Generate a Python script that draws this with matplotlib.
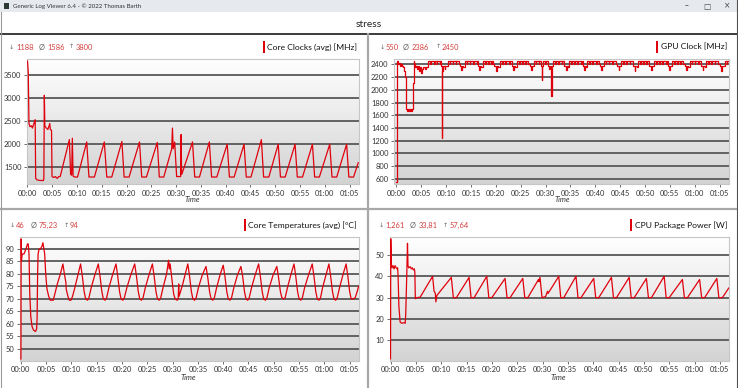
import numpy as np
import matplotlib.pyplot as plt
from matplotlib.patches import Rectangle
from matplotlib.lines import Line2D
from matplotlib.colors import LinearSegmentedColormap

plt.rcParams['font.family'] = ['Lato', 'DejaVu Sans']

# ---- data (time in minutes) ----
cpu_t = [0.0, 0.15, 0.3, 0.5, 0.8, 1.0, 1.2, 1.45, 1.55, 1.65, 1.9, 2.5, 3.2, 3.3, 3.4, 3.5,
         3.8, 4.1, 4.3, 4.5, 4.6, 4.85, 4.95, 5.3, 5.6, 6.0, 6.3, 6.6, 8.45, 8.7, 8.9, 9.05,
         9.2, 9.5, 10.1, 11.95, 12.4, 13.5, 15.5, 16.0, 17.0, 19.05, 19.5, 20.5, 22.6, 23.05,
         24.0, 26.2, 26.6, 27.5, 29.1, 29.25, 29.4, 29.7, 30.1, 30.9, 31.0, 31.1, 31.3, 33.3,
         33.75, 34.7, 36.7, 37.15, 38.2, 40.3, 40.75, 41.7, 43.7, 44.15, 45.1, 47.2, 47.65,
         48.7, 50.6, 51.05, 52.0, 54.0, 54.45, 55.5, 57.5, 57.95, 58.9, 61.0, 61.45, 62.4,
         64.4, 64.85, 65.8, 66.75]
cpu_mhz = [3800, 3580, 2450, 2380, 2400, 2350, 2420, 2500, 2530, 1260, 1230, 1215, 1215, 1250,
           3060, 2400, 2350, 2320, 2380, 2450, 2320, 2300, 1300, 1280, 1300, 1260, 1300, 1300,
           2100, 1350, 1330, 2130, 1310, 1290, 1290, 2050, 1290, 1290, 2050, 1290, 1290, 2060,
           1290, 1290, 2050, 1290, 1290, 2040, 1290, 1290, 1900, 2350, 1900, 2050, 1300, 1300,
           2210, 1350, 1400, 2050, 1290, 1290, 2050, 1290, 1290, 2000, 1290, 1290, 2000, 1290,
           1290, 2100, 1290, 1290, 2000, 1290, 1290, 2000, 1290, 1290, 2000, 1290, 1290, 2000,
           1290, 1290, 2000, 1290, 1290, 1600]

gpu_t = [0.0, 0.05, 0.1, 0.3, 0.5, 0.7, 0.9, 1.1, 1.3, 1.5, 1.7, 1.85, 2.0, 2.15, 2.4, 2.6,
         2.8, 3.0, 3.2, 3.35, 3.45, 3.6, 3.8, 4.0, 4.2, 4.4, 4.6, 4.8, 5.0, 5.15, 5.4, 5.7,
         5.9, 6.1,
         6.4, 6.8, 6.95, 7.5, 7.65, 8.1, 8.25, 8.7, 8.85, 9.0, 9.15, 9.25, 9.4, 9.7, 9.85,
         10.3, 10.7, 10.85, 11.3, 11.45, 11.9, 12.05, 12.5, 12.7, 13.0, 13.15, 13.4,
         13.7, 14.1, 14.25, 14.7, 14.85, 15.4, 15.55, 16.1, 16.25, 16.4, 16.7, 16.85, 17.1,
         17.4, 17.8, 17.95, 18.4, 18.55, 19.0, 19.15, 19.5, 19.7, 20.0, 20.15, 20.5,
         20.9, 21.3, 21.45, 21.9, 22.05, 22.6, 22.75, 23.2, 23.5, 23.65, 23.9,
         24.3, 24.7, 24.85, 25.3, 25.45, 25.9, 26.05, 26.5, 26.8, 27.1, 27.25,
         27.6, 28.0, 28.15, 28.6, 28.75, 29.1, 29.25, 29.35, 29.5, 29.9, 30.05, 30.4, 30.7,
         30.85, 31.1, 31.2,
         31.5, 31.9, 32.05, 32.5, 32.65, 33.2, 33.35, 33.8, 34.1, 34.25, 34.5,
         34.7, 35.1, 35.25, 35.7, 35.85, 36.4, 36.55, 37.1, 37.25, 37.5, 37.8, 37.95, 38.2,
         38.4, 38.8, 38.95, 39.4, 39.55, 40.1, 40.25, 40.7, 40.9, 41.2, 41.35,
         41.7, 42.1, 42.25, 42.7, 42.85, 43.4, 43.55, 44.1, 44.4, 44.7, 44.85,
         45.2, 45.6, 45.75, 46.2, 46.35, 46.9, 47.05, 47.6, 47.9, 48.05, 48.3,
         48.6, 49.0, 49.15, 49.6, 49.75, 50.3, 50.45, 50.9, 51.2, 51.35,
         51.8, 52.2, 52.35, 52.8, 52.95, 53.5, 53.65, 54.2, 54.35, 54.6, 54.9, 55.05,
         55.4, 55.8, 55.95, 56.4, 56.55, 57.1, 57.25, 57.7, 58.0, 58.3, 58.45, 58.7,
         59.0, 59.4, 59.55, 60.0, 60.15, 60.7, 60.85, 61.3, 61.6, 61.75, 62.0,
         62.3, 62.7, 62.85, 63.3, 63.45, 64.0, 64.15, 64.6, 65.0, 65.3, 65.45,
         66.0, 66.4, 66.55, 66.8]
gpu_mhz = [560, 2050, 2450, 2400, 2420, 2380, 2400, 2370, 2350, 2300, 2200, 2000, 1700, 1660,
           1700, 1660, 1700, 1660, 1700, 2100, 2450, 2400, 2350, 2380, 2330, 2370, 2300, 2350,
           2260, 2330, 2350, 2330, 2360, 2350,
           2450, 2400, 2450, 2410, 2450, 2400, 2450, 2400, 2450, 2370, 1250, 2300, 2370, 2330, 2370,
           2450, 2400, 2450, 2410, 2450, 2400, 2450, 2400, 2370, 2310, 2370, 2350,
           2450, 2400, 2450, 2410, 2450, 2400, 2450, 2400, 2450, 2370, 2310, 2370, 2350,
           2450, 2400, 2450, 2410, 2450, 2400, 2450, 2400, 2370, 2300, 2370, 2350,
           2450, 2400, 2450, 2410, 2450, 2400, 2450, 2370, 2310, 2370, 2350,
           2450, 2400, 2450, 2410, 2450, 2400, 2450, 2400, 2370, 2310, 2370,
           2450, 2400, 2450, 2410, 2450, 2370, 2150, 2370, 2450, 2400, 2450, 2370, 2330,
           2370, 1900, 2370,
           2450, 2400, 2450, 2410, 2450, 2400, 2450, 2370, 2310, 2370, 2350,
           2450, 2400, 2450, 2410, 2450, 2400, 2450, 2400, 2450, 2370, 2310, 2370, 2350,
           2450, 2400, 2450, 2410, 2450, 2400, 2450, 2400, 2370, 2310, 2370,
           2450, 2400, 2450, 2410, 2450, 2400, 2450, 2400, 2370, 2310, 2370,
           2450, 2400, 2450, 2410, 2450, 2400, 2450, 2370, 2300, 2370, 2350,
           2450, 2400, 2450, 2410, 2450, 2400, 2450, 2370, 2310, 2370,
           2450, 2400, 2450, 2410, 2450, 2400, 2450, 2400, 2450, 2370, 2310, 2370,
           2450, 2400, 2450, 2410, 2450, 2400, 2450, 2400, 2370, 2310, 2370, 2350,
           2450, 2400, 2450, 2410, 2450, 2400, 2450, 2370, 2310, 2370, 2350,
           2450, 2400, 2450, 2410, 2450, 2400, 2450, 2400, 2370, 2300, 2370,
           2450, 2400, 2450, 2450]

temp_t = [0.0, 0.05, 0.1, 0.25, 0.6, 1.0, 1.3, 1.45, 1.6, 1.75, 1.95, 2.2, 2.5, 2.9, 3.1, 3.2,
          3.3, 3.4, 3.6, 3.85, 4.15, 4.35, 4.55, 4.7, 4.9, 5.15, 5.5, 5.8, 6.4, 6.7, 7.2, 7.8,
          8.3, 8.6, 8.9, 8.95, 9.3, 9.55, 9.9, 10.2, 10.6, 11.2,
          11.8, 12.15, 12.5, 12.8, 13.15, 13.45, 13.9, 14.6,
          15.3, 15.65, 16.0, 16.3, 16.65, 16.95, 17.4, 18.1,
          18.8, 19.15, 19.5, 19.8, 20.15, 20.45, 20.95, 21.7,
          22.5, 22.85, 23.2, 23.5, 23.85, 24.15, 24.6, 25.3,
          26.0, 26.35, 26.7, 27.0, 27.35, 27.65, 28.1, 28.8, 29.2, 29.35, 29.5, 29.85, 30.2,
          30.5, 30.9, 31.1, 31.2, 31.25, 31.5, 32.0, 32.5,
          33.0, 33.35, 33.7, 34.0, 34.35, 34.65, 35.1, 35.85,
          36.6, 36.95, 37.3, 37.6, 37.95, 38.25, 38.7, 39.35,
          40.0, 40.35, 40.7, 41.0, 41.35, 41.65, 42.1, 42.8,
          43.5, 43.85, 44.2, 44.5, 44.85, 45.15, 45.6, 46.3,
          47.0, 47.35, 47.7, 48.0, 48.35, 48.65, 49.1, 49.85,
          50.6, 50.95, 51.3, 51.6, 51.95, 52.25, 52.7, 53.35,
          54.0, 54.35, 54.7, 55.0, 55.35, 55.65, 56.1, 56.85,
          57.6, 57.95, 58.3, 58.6, 58.95, 59.25, 59.65, 60.3,
          60.9, 61.25, 61.6, 61.9, 62.25, 62.55, 63.0, 63.65,
          64.3, 64.65, 65.0, 65.3, 65.7, 66.1, 66.5, 66.75]
temp_c = [46, 94, 85, 88, 88, 90, 92, 92, 88, 72, 63, 59, 57.5, 57, 58, 62,
          80, 88, 90, 90, 91, 92.5, 90, 88, 80, 74, 71, 69.5, 69.5, 72, 76, 80,
          84, 80, 76.5, 74, 71, 69.5, 69.5, 71, 74, 79,
          84, 79, 73, 70, 69.5, 70.5, 74.5, 79.5,
          84, 79, 73, 70, 69.5, 70.5, 74.5, 79.5,
          84, 79, 73, 70, 69.5, 70.5, 74.5, 79.5,
          84, 79, 73, 70, 69.5, 70.5, 74.5, 79.5,
          84, 79, 73, 70, 69.5, 70.5, 74.5, 80, 85.5, 82, 84, 78, 72,
          70, 69.5, 70, 76, 71, 72.5, 76, 80,
          84, 79, 73, 70, 69.5, 70.5, 74.5, 79.5,
          83, 78.5, 73, 70, 69.5, 70.5, 74.5, 79.5,
          83.5, 79, 73, 70, 69.5, 70.5, 74.5, 79.5,
          83, 79, 73, 70, 69.5, 70.5, 74.5, 79.5,
          84, 79, 73, 70, 69.5, 70.5, 74.5, 79.5,
          83, 78.5, 73, 70.5, 70, 70.5, 74.5, 79.5,
          84, 79, 73, 70, 69.5, 70.5, 74.5, 79.5,
          84, 79, 73, 70, 69.5, 70.5, 74.5, 79.5,
          84, 79, 73, 70, 69.5, 70.5, 74.5, 79.5,
          84, 79, 73, 70, 70, 70.5, 73, 75]

pwr_t = [0.0, 0.05, 0.15, 0.3, 0.5, 0.7, 0.9, 1.1, 1.3, 1.4, 1.5, 1.65, 1.9, 2.2, 2.6, 2.9,
         3.0, 3.2, 3.35, 3.45, 3.6, 3.9, 4.1, 4.3, 4.5, 4.7, 4.8, 4.9, 5.2, 5.85, 8.3, 8.6,
         8.85, 8.95, 9.15, 12.0, 12.4, 13.0, 15.5, 15.9, 16.5, 19.0, 19.4, 20.0, 22.6, 23.0,
         23.6, 26.1, 26.5, 27.1, 29.2, 29.3, 29.5, 29.9, 30.6, 31.0, 31.1, 33.2, 33.6, 34.2,
         36.6, 37.0, 37.6, 40.1, 40.5, 41.1, 43.6, 44.0, 44.6, 47.1, 47.5, 48.1, 50.5, 50.9,
         51.5, 54.0, 54.4, 55.0, 57.6, 58.0, 58.6, 61.0, 61.4, 62.0, 64.4, 64.8, 65.5, 66.75]
pwr_w = [1.3, 57.6, 46, 44, 45, 43.5, 45, 44, 43.5, 44, 40, 26, 18.5, 18, 18.2, 18,
         22, 40, 55.5, 45, 44, 44.5, 43.5, 44, 43, 43.5, 42, 29.5, 30, 30.2, 40, 33,
         32, 28, 31, 39.5, 30, 30, 39.5, 30, 30, 40, 30, 30, 39, 30,
         30, 39, 30, 30, 38.5, 37.5, 39.5, 30, 30.5, 33, 32, 40, 30, 30,
         40, 30, 30, 39, 30, 30, 39.5, 30, 30, 39.5, 30, 30, 39, 30,
         30, 40, 30, 30, 38.5, 30, 30, 38.5, 30, 30, 39, 30, 30, 34.5]

time_ticks = [0, 5, 10, 15, 20, 25, 30, 35, 40, 45, 50, 55, 60, 65]

W, H = 738, 388
RED = '#e0000c'
STAT_RED = '#d2403f'
GRAY = '#666666'


def fx(x):
    return x / W


def fy(y):
    return 1 - y / H


fig = plt.figure(figsize=(W / 100, H / 100), dpi=100)

# window chrome
fig.patches.append(Rectangle((0, fy(12)), 1, 12 / H, transform=fig.transFigure,
                             facecolor='#e6eaef', edgecolor='none', zorder=0))
fig.patches.append(Rectangle((fx(3.5), fy(9)), 5 / W, 6 / H, transform=fig.transFigure,
                             facecolor='#2d3a33', edgecolor='none'))
fig.text(fx(13), fy(6), 'Generic Log Viewer 6.4 - \u00a9 2022 Thomas Barth', fontsize=4.4,
         color='#333333', va='center')
for x, s in [(687, '\u2013'), (707, '\u25a1'), (727.5, '\u00d7')]:
    fig.text(fx(x), fy(6), s, fontsize=5.5, color='#444444', ha='center', va='center',
             family=['DejaVu Sans'])
fig.text(fx(369), fy(24.5), 'stress', fontsize=7.4, color='#222222', ha='center', va='center')
fig.add_artist(Line2D([0, 1], [fy(33.5), fy(33.5)], color='#3a3a3a', lw=1.4))
fig.add_artist(Line2D([fx(368), fx(368)], [fy(34), 0], color='#a8a8a8', lw=1.6))
fig.add_artist(Line2D([0, 1], [fy(209), fy(209)], color='#a8a8a8', lw=1.6))
fig.add_artist(Line2D([fx(737.3), fx(737.3)], [0, 1], color='#505050', lw=0.8))
fig.add_artist(Line2D([fx(0.5), fx(0.5)], [0, fy(12)], color='#9a9a9a', lw=0.8))

plot_bg = LinearSegmentedColormap.from_list('bg', ['#ffffff', '#d3d3d3'])
grad = np.linspace(0, 1, 256).reshape(-1, 1)


def draw_panel(box, t, v, xlim, ylim, yticks, steps=False):
    l, r, top, bot = box
    ax = fig.add_axes([fx(l), fy(bot), (r - l) / W, (bot - top) / H])
    ax.imshow(grad, extent=[0, 1, 0, 1], transform=ax.transAxes, cmap=plot_bg,
              aspect='auto', zorder=0, origin='upper')
    ax.plot(t, v, color=RED, lw=0.9, drawstyle='steps-post' if steps else 'default', zorder=3)
    ax.set_xlim(xlim)
    ax.set_ylim(ylim)
    ax.set_yticks(yticks)
    ax.set_xticks(time_ticks)
    ax.set_xticklabels([f'{m // 60:02d}:{m % 60:02d}' for m in time_ticks])
    ax.set_axisbelow(True)
    ax.grid(axis='y', color='#585858', lw=1.3)
    for sp in ax.spines.values():
        sp.set_color('#c6c6c6')
        sp.set_linewidth(0.8)
    ax.tick_params(labelsize=5.4, colors='#555555', labelcolor='#333333',
                   length=2.5, width=0.6, pad=1.5)
    return ax


renderer = fig.canvas.get_renderer()


def header(stats, title, title_right, y):
    # stats: (arrow-down centre, min, Ø centre, avg, arrow-up centre, max)
    x_dn, s_min, x_avg_sym, s_avg, x_up, s_max = stats
    fig.text(fx(x_dn), fy(y), '\u2193', fontsize=4.6, color=GRAY, ha='center', va='center',
             family=['DejaVu Sans'])
    fig.text(fx(x_up), fy(y), '\u2191', fontsize=4.6, color=GRAY, ha='center', va='center',
             family=['DejaVu Sans'])
    fig.text(fx(x_avg_sym), fy(y), '\u00d8', fontsize=5.4, color=GRAY, ha='center', va='center')
    for x, s in (s_min, s_avg, s_max):
        fig.text(fx(x), fy(y), s, fontsize=5.4, color=STAT_RED, va='center')
    txt = fig.text(fx(title_right), fy(y), title, fontsize=6.1, color='#111111',
                   ha='right', va='center')
    # red colour marker sits just left of the series name
    left = txt.get_window_extent(renderer).x0
    fig.patches.append(Rectangle(((left - 4.5) / W, fy(y + 6)), 2.2 / W, 12 / H,
                                 transform=fig.transFigure, facecolor=RED, edgecolor='none'))


def time_label(x, y):
    fig.text(fx(x), fy(y), 'Time', fontsize=5.5, style='italic', color='#333333',
             ha='center', va='center')


draw_panel((27, 359, 59, 184), cpu_t, cpu_mhz, (-0.1, 66.9), (1139, 3846),
           [1500, 2000, 2500, 3000, 3500])
header((11.7, (16.7, '1188'), 41.3, (47.7, '1586'), 71.7, (76, '3800')),
       'Core Clocks (avg) [MHz]', 357, 47)
time_label(192, 199.5)

draw_panel((394, 729, 59, 184), gpu_t, gpu_mhz, (-0.5, 66.9), (521, 2483),
           [600, 800, 1000, 1200, 1400, 1600, 1800, 2000, 2200, 2400], steps=True)
header((382.3, (386, '550'), 405.5, (411.5, '2386'), 438, (441.7, '2450')),
       'GPU Clock [MHz]', 727, 47)
time_label(562.5, 199.5)

draw_panel((19.5, 359, 236.7, 360.7), temp_t, temp_c, (-0.28, 66.85), (45.3, 94.9),
           [50, 55, 60, 65, 70, 75, 80, 85, 90])
header((12.3, (16, '46'), 34, (39, '75,23'), 66.7, (70, '94')),
       'Core Temperatures (avg) [\u00b0C]', 357, 225)
time_label(188.5, 377.5)

draw_panel((389.5, 729, 236.7, 360.7), pwr_t, pwr_w, (-0.2, 66.8), (0.4, 58.6),
           [10, 20, 30, 40, 50])
header((381.7, (385.7, '1,261'), 413, (418.5, '33,81'), 445, (449.3, '57,64')),
       'CPU Package Power [W]', 727, 225)
time_label(558.5, 377.5)

fig.savefig('out.png', dpi=100)
